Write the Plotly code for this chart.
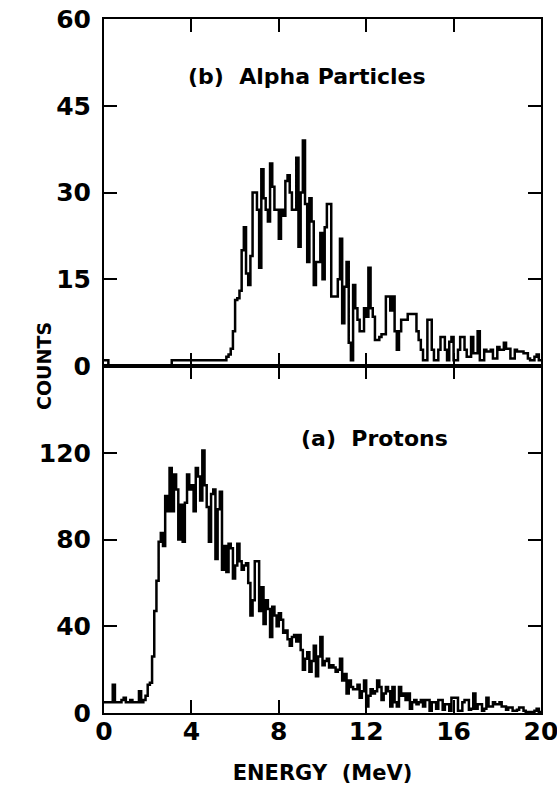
import numpy as np
import plotly.graph_objects as go
from plotly.subplots import make_subplots

# Energy bins: left edges, 0.1 MeV wide, 0 .. 20 MeV
BIN_WIDTH = 0.1
energy_edges = np.round(np.arange(0, 20.0 + BIN_WIDTH / 2, BIN_WIDTH), 2)

# (a) Protons: counts per 0.1 MeV bin (200 bins)
proton_counts = [
    5, 5, 5, 5, 13, 5, 5, 5, 6, 7,
    5, 5, 6, 5, 5, 5, 10, 5, 6, 8,
    13, 14, 26, 47, 61, 79, 83, 77, 100, 93,
    113, 93, 110, 103, 80, 96, 79, 97, 110, 103,
    105, 93, 113, 109, 98, 121, 105, 95, 79, 101,
    103, 71, 94, 102, 66, 77, 65, 78, 76, 62,
    68, 78, 70, 66, 68, 69, 60, 45, 52, 70,
    70, 47, 58, 41, 52, 48, 35, 49, 45, 40,
    46, 43, 37, 38, 34, 31, 35, 36, 33, 36,
    29, 20, 25, 28, 19, 24, 31, 17, 26, 35,
    22, 24, 25, 21, 22, 21, 19, 20, 25, 15,
    18, 9, 15, 12, 11, 11, 13, 7, 10, 15,
    3, 8, 11, 9, 10, 15, 12, 6, 9, 12,
    10, 3, 12, 5, 3, 12, 8, 9, 6, 9,
    2, 5, 6, 4, 5, 6, 3, 6, 6, 1,
    5, 5, 2, 6, 6, 1.5, 4, 4, 1, 7,
    7, 7, 1, 1, 5, 6, 6, 1.5, 2, 9,
    2, 4, 4, 1, 2, 7, 3, 3, 5, 4,
    4, 5, 3, 3, 1.5, 2.5, 2.5, 1, 1, 1.5,
    2.5, 2.5, 1, 0.5, 0.5, 0.5, 0.5, 1, 2, 0.5,
]

# (b) Alpha particles: counts per 0.1 MeV bin (200 bins)
alpha_counts = [
    1, 1, 0, 0, 0, 0, 0, 0, 0, 0,
    0, 0, 0, 0, 0, 0, 0, 0, 0, 0,
    0, 0, 0, 0, 0, 0, 0, 0, 0, 0,
    0, 1, 1, 1, 1, 1, 1, 1, 1, 1,
    1, 1, 1, 1, 1, 1, 1, 1, 1, 1,
    1, 1, 1, 1, 1, 1, 1.6, 2, 3, 6,
    11.4, 11.7, 13, 20, 24, 16, 14, 19, 30, 30,
    27, 17, 34, 29, 27, 25, 35, 31, 27, 27,
    22, 27, 26, 32, 33, 30, 27, 27, 36, 20.6,
    30, 39, 28, 18, 29, 25, 14, 18, 18, 23,
    15, 24, 28, 28, 12, 12, 12, 15, 22, 7.4,
    13.7, 18, 4, 1, 14, 10, 8, 6, 6, 10,
    8.5, 17, 10, 8.5, 4.5, 4.5, 5, 5.5, 5.5, 12,
    12, 9.6, 12, 6, 2.8, 6, 8, 8, 8, 9,
    9, 9, 9, 6, 4.5, 2.8, 1, 1, 8, 8,
    2.8, 1, 1, 2.8, 5, 5, 2.8, 1, 4.2, 5,
    1, 1, 2.8, 5, 5, 2.8, 1.6, 1.6, 5, 2.2,
    2.2, 6, 1, 1, 2.8, 2.5, 2.5, 2.8, 1.3, 1.3,
    3.3, 2.8, 2.8, 4, 3, 3, 1.3, 1.3, 2.8, 2.5,
    2.5, 2.5, 2.2, 2.2, 1.3, 1, 1, 1.6, 2, 1,
]

alpha_ticks = [0, 15, 30, 45, 60]
proton_ticks = [0, 40, 80, 120]
energy_ticks = [0, 4, 8, 12, 16, 20]

FONT = "DejaVu Sans"

def step_xy(counts):
    # hv step line: each bin value held from its left edge to the next edge
    y = list(counts) + [counts[-1]]
    return list(energy_edges), y

fig = make_subplots(rows=2, cols=1, shared_xaxes=True, vertical_spacing=0)

xa, ya = step_xy(alpha_counts)
fig.add_trace(go.Scatter(x=xa, y=ya, mode="lines", line=dict(color="black", width=2.5, shape="hv"),
                         showlegend=False, hoverinfo="skip"), row=1, col=1)
xp, yp = step_xy(proton_counts)
fig.add_trace(go.Scatter(x=xp, y=yp, mode="lines", line=dict(color="black", width=2.5, shape="hv"),
                         showlegend=False, hoverinfo="skip"), row=2, col=1)

axis_common = dict(showline=True, linecolor="black", linewidth=2, mirror="ticks",
                   ticks="inside", tickcolor="black", tickwidth=2, showgrid=False,
                   zeroline=False, ticklen=13, automargin=False, ticklabeloverflow="allow")

tickfont = dict(family=FONT, size=25, color="black", weight="bold")

fig.update_xaxes(range=[0, 20], tickvals=energy_ticks, **axis_common)
fig.update_xaxes(showticklabels=False, row=1, col=1)
fig.update_xaxes(tickfont=tickfont, ticklabelstandoff=-5,
                 title=dict(text="ENERGY  (MeV)", font=dict(family=FONT, size=21, color="black", weight="bold"),
                            standoff=20),
                 row=2, col=1)
fig.update_yaxes(range=[0, 60], tickvals=alpha_ticks, tickfont=tickfont, ticklabelstandoff=6,
                 row=1, col=1, **axis_common)
fig.update_yaxes(range=[0, 160], tickvals=proton_ticks, tickfont=tickfont, ticklabelstandoff=6,
                 row=2, col=1, **axis_common)

fig.add_annotation(x=9.3, y=50, xref="x", yref="y", text="(b)  Alpha Particles", showarrow=False,
                   font=dict(family=FONT, size=22, color="black", weight="bold"))
fig.add_annotation(x=12.4, y=126.5, xref="x2", yref="y2", text="(a)  Protons", showarrow=False,
                   font=dict(family=FONT, size=22, color="black", weight="bold"))

plot_w = 557 - 104 - 16
plot_h = 786 - 19 - 73
fig.add_annotation(x=(31 - 104) / plot_w, y=(786 - 73 - 366) / plot_h, xref="paper", yref="paper",
                   text="COUNTS", showarrow=False, textangle=-90,
                   font=dict(family=FONT, size=19, color="black", weight="bold"))

fig.update_layout(width=557, height=786, margin=dict(l=104, r=16, t=19, b=73, autoexpand=False),
                  paper_bgcolor="white", plot_bgcolor="white")

fig.write_html("out.html")
